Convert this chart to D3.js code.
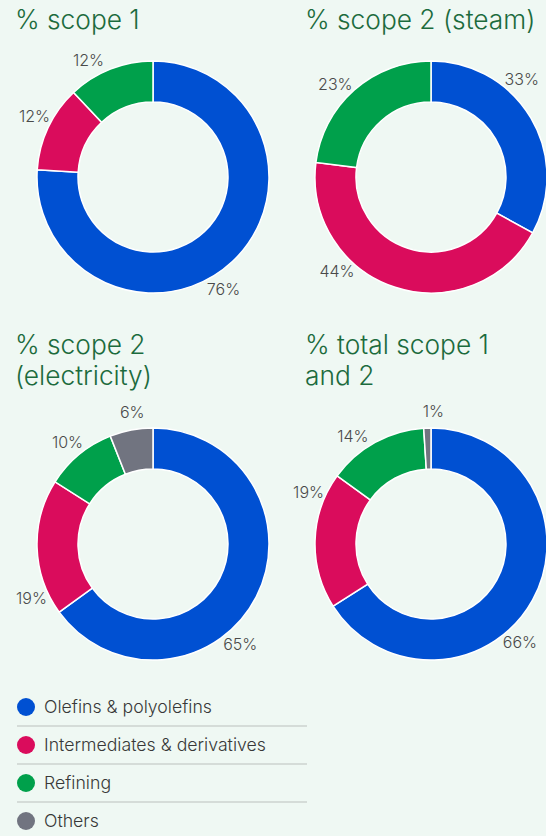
<!DOCTYPE html>
<meta charset="utf-8">
<style>
    body { margin: 0; background: #eff8f3; }
    svg { display: block; }
</style>
<svg width="546" height="836"></svg>

<script src="https://d3js.org/d3.v7.min.js"></script>
<script>
    // categories and values
    var categories = ["Olefins & polyolefins", "Intermediates & derivatives", "Refining", "Others"];
    var colors = ["#0050d2", "#da0c5c", "#00a04b", "#717480"];

    var titles = [
        ["% scope 1"],
        ["% scope 2 (steam)"],
        ["% scope 2", "(electricity)"],
        ["% total scope 1", "and 2"]
    ];
    var scope1 = [76, 12, 12, 0];
    var scope2Steam = [33, 44, 23, 0];
    var scope2Electricity = [65, 19, 10, 6];
    var totalScope = [66, 19, 14, 1];

    var series = [scope1, scope2Steam, scope2Electricity, totalScope];

    // where the designer put each percent label, as a clock angle in degrees
    var labelAngles = [
        [148, 297, 331, 0],
        [43, 225, 314, 0],
        [139, 246, 320, 351],
        [138, 293, 324, 1]
    ];

    var svg = d3.select("svg"),
        OUTER = 116,
        INNER = 75,
        LABEL_R = 133,
        // panel layout: centre of each donut and title origin
        panels = [
            {cx: 153, cy: 177, tx: 15, ty: 29},
            {cx: 431, cy: 177, tx: 305, ty: 29},
            {cx: 153, cy: 544, tx: 15, ty: 354},
            {cx: 431, cy: 544, tx: 305, ty: 354}
        ],
        color = d3.scaleOrdinal().domain(categories).range(colors),
        pie = d3.pie().sort(null).value(function (d) { return d.value; }),
        arc = d3.arc().innerRadius(INNER).outerRadius(OUTER),
        labelArc = d3.arc().innerRadius(LABEL_R).outerRadius(LABEL_R);

    series.forEach(function (values, k) {
        var p = panels[k],
            rows = values.map(function (v, i) {
                return {cat: categories[i], value: v, angle: labelAngles[k][i]};
            }),
            arcs = pie(rows).filter(function (a) { return a.data.value > 0; }),
            g = svg.append("g").attr("transform", "translate(" + p.cx + "," + p.cy + ")");

        svg.append("text")
            .attr("x", p.tx)
            .attr("y", p.ty)
            .attr("fill", "#1c6b3d")
            .attr("font-family", "Inter, 'Open Sans', sans-serif")
            .attr("font-weight", 300)
            .attr("font-size", 26.3)
            .selectAll("tspan")
            .data(titles[k])
            .enter()
            .append("tspan")
            .attr("x", p.tx)
            .attr("dy", function (d, i) { return i ? 31 : 0; })
            .text(function (d) { return d; });

        g.selectAll("path")
            .data(arcs)
            .enter()
            .append("path")
            .attr("d", arc)
            .attr("fill", function (a) { return color(a.data.cat); })
            .attr("stroke", "#ffffff")
            .attr("stroke-width", 1.5);

        g.selectAll("text.lbl")
            .data(arcs)
            .enter()
            .append("text")
            .attr("class", "lbl")
            .attr("transform", function (a) {
                var t = a.data.angle * Math.PI / 180;
                return "translate(" + labelArc.centroid({startAngle: t, endAngle: t}) + ")";
            })
            .attr("text-anchor", "middle")
            .attr("dy", "0.35em")
            .attr("fill", "#4a4a4a")
            .attr("font-family", "Inter, 'Open Sans', sans-serif")
            .attr("font-weight", 300)
            .attr("font-size", 16)
            .text(function (a) { return a.data.value + "%"; });
    });

    // legend
    var legend = svg.append("g").attr("transform", "translate(0,707)"),
        ROW = 38;

    var item = legend.selectAll("g")
        .data(categories)
        .enter()
        .append("g")
        .attr("transform", function (d, i) { return "translate(0," + (i * ROW) + ")"; });

    item.append("circle")
        .attr("cx", 26)
        .attr("r", 9)
        .attr("fill", function (d) { return color(d); });

    item.append("text")
        .attr("x", 44)
        .attr("dy", "0.35em")
        .attr("fill", "#383838")
        .attr("font-family", "Inter, 'Open Sans', sans-serif")
        .attr("font-weight", 300)
        .attr("font-size", 17.7)
        .text(function (d) { return d; });

    item.filter(function (d, i) { return i < categories.length - 1; })
        .append("line")
        .attr("x1", 17)
        .attr("x2", 307)
        .attr("y1", 19)
        .attr("y2", 19)
        .attr("stroke", "#cdd3cf")
        .attr("stroke-width", 1.6);
</script>
